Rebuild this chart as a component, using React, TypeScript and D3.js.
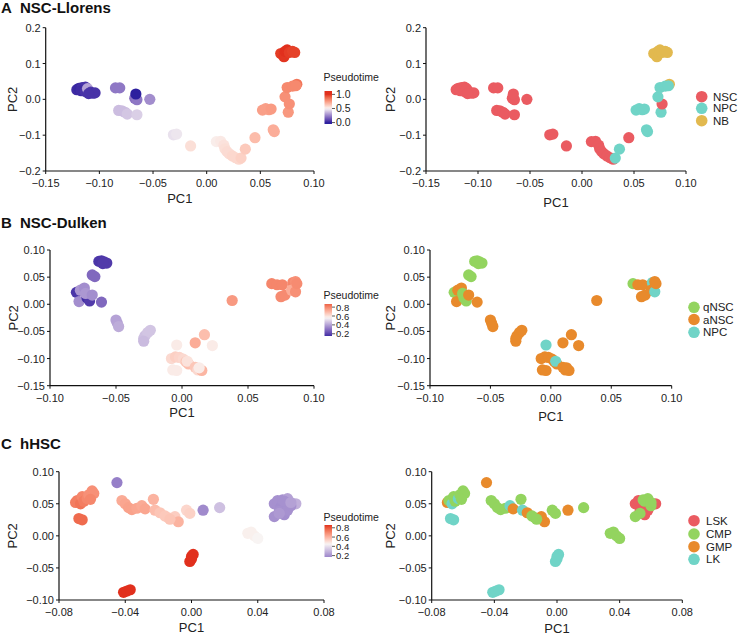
import React from "react";
import * as d3 from "d3";

// ---------------- Data ----------------
// Panel A: NSC-Llorens
const A_PC1 = [-0.121, -0.119, -0.116, -0.113, -0.117, -0.113, -0.111, -0.108, -0.106, -0.104, -0.11, -0.085, -0.081, -0.067, -0.065, -0.066, -0.053, -0.082, -0.079, -0.076, -0.074, -0.065, -0.031, -0.028, -0.015, 0.009, 0.013, 0.016, 0.017, 0.019, 0.021, 0.024, 0.027, 0.03, 0.032, 0.036, 0.045, 0.062, 0.063, 0.052, 0.055, 0.058, 0.06, 0.076, 0.077, 0.084, 0.073, 0.075, 0.08, 0.083, 0.069, 0.072, 0.073, 0.075, 0.077, 0.08, 0.082];
const A_PC2 = [0.027, 0.031, 0.033, 0.034, 0.024, 0.022, 0.03, 0.02, 0.017, 0.018, 0.016, 0.032, 0.032, 0.003, -0.001, 0.015, 0.0, -0.031, -0.032, -0.036, -0.041, -0.043, -0.099, -0.097, -0.13, -0.118, -0.117, -0.128, -0.138, -0.146, -0.152, -0.158, -0.163, -0.167, -0.164, -0.139, -0.107, -0.085, -0.09, -0.03, -0.026, -0.029, -0.027, -0.036, -0.013, 0.042, 0.007, 0.033, 0.037, 0.038, 0.128, 0.119, 0.134, 0.138, 0.131, 0.134, 0.131];
const A_PT = [0.03, 0.02, 0.04, 0.05, 0.03, 0.05, 0.32, 0.06, 0.04, 0.05, 0.05, 0.22, 0.22, 0.2, 0.22, 0.0, 0.27, 0.38, 0.38, 0.38, 0.4, 0.42, 0.46, 0.47, 0.56, 0.52, 0.53, 0.55, 0.56, 0.57, 0.57, 0.58, 0.58, 0.58, 0.6, 0.62, 0.66, 0.7, 0.7, 0.74, 0.74, 0.74, 0.75, 0.76, 0.78, 0.85, 0.78, 0.8, 0.8, 0.8, 0.98, 0.99, 1.0, 1.0, 0.98, 0.97, 0.97];
const A_TYPE = ["NSC", "NSC", "NSC", "NSC", "NSC", "NSC", "NSC", "NSC", "NSC", "NSC", "NSC", "NSC", "NSC", "NSC", "NSC", "NSC", "NSC", "NSC", "NSC", "NSC", "NSC", "NSC", "NSC", "NSC", "NSC", "NSC", "NSC", "NSC", "NSC", "NSC", "NSC", "NSC", "NSC", "NSC", "NPC", "NPC", "NSC", "NPC", "NPC", "NPC", "NPC", "NPC", "NPC", "NPC", "NSC", "NB", "NPC", "NPC", "NPC", "NPC", "NB", "NB", "NB", "NB", "NB", "NB", "NB"];
const A_CATS = ["NSC", "NPC", "NB"];
const A_X_TICKS = [-0.15, -0.1, -0.05, 0, 0.05, 0.1];
const A_Y_TICKS = [-0.2, -0.1, 0, 0.1, 0.2];
const A_PT_TICKS = [0, 0.5, 1.0];

// Panel B: NSC-Dulken
const B_PC1 = [-0.063, -0.061, -0.059, -0.057, -0.06, -0.068, -0.066, -0.08, -0.078, -0.077, -0.074, -0.072, -0.07, -0.073, -0.068, -0.061, -0.05, -0.049, -0.048, -0.029, -0.028, -0.026, -0.024, -0.029, -0.004, -0.008, -0.005, -0.002, 0.001, 0.003, 0.005, -0.007, -0.004, 0.004, 0.01, 0.012, 0.015, 0.013, 0.01, 0.017, 0.023, 0.038, 0.068, 0.072, 0.076, 0.075, 0.078, 0.084, 0.086, 0.083, 0.086, 0.087];
const B_PC2 = [0.079, 0.08, 0.078, 0.076, 0.075, 0.054, 0.051, 0.022, 0.005, 0.026, 0.03, 0.012, 0.006, 0.02, 0.017, 0.004, -0.029, -0.035, -0.041, -0.063, -0.058, -0.052, -0.048, -0.068, -0.075, -0.1, -0.097, -0.098, -0.101, -0.106, -0.11, -0.121, -0.122, -0.105, -0.116, -0.121, -0.122, -0.117, -0.071, -0.056, -0.076, 0.007, 0.038, 0.036, 0.036, 0.014, 0.017, 0.04, 0.042, 0.026, 0.023, 0.038];
const B_PT = [0.17, 0.17, 0.18, 0.18, 0.18, 0.28, 0.28, 0.17, 0.36, 0.38, 0.36, 0.15, 0.18, 0.38, 0.36, 0.28, 0.4, 0.4, 0.42, 0.46, 0.46, 0.47, 0.47, 0.45, 0.58, 0.62, 0.64, 0.63, 0.62, 0.66, 0.68, 0.58, 0.58, 0.6, 0.66, 0.62, 0.7, 0.58, 0.72, 0.68, 0.58, 0.76, 0.8, 0.8, 0.8, 0.79, 0.79, 0.8, 0.78, 0.72, 0.78, 0.79];
const B_TYPE = ["qNSC", "qNSC", "qNSC", "qNSC", "qNSC", "qNSC", "qNSC", "qNSC", "aNSC", "aNSC", "aNSC", "qNSC", "qNSC", "qNSC", "aNSC", "aNSC", "aNSC", "aNSC", "aNSC", "aNSC", "aNSC", "aNSC", "aNSC", "aNSC", "NPC", "aNSC", "aNSC", "aNSC", "aNSC", "aNSC", "aNSC", "aNSC", "aNSC", "NPC", "aNSC", "aNSC", "aNSC", "aNSC", "aNSC", "aNSC", "aNSC", "aNSC", "qNSC", "aNSC", "aNSC", "aNSC", "aNSC", "NPC", "aNSC", "aNSC", "NPC", "aNSC"];
const B_CATS = ["qNSC", "aNSC", "NPC"];
const B_X_TICKS = [-0.1, -0.05, 0, 0.05, 0.1];
const B_Y_TICKS = [-0.15, -0.1, -0.05, 0, 0.05, 0.1];
const B_PT_TICKS = [0.2, 0.4, 0.6, 0.8];

// Panel C: hHSC
const C_PC1 = [-0.07, -0.069, -0.067, -0.066, -0.065, -0.063, -0.062, -0.06, -0.059, -0.061, -0.068, -0.066, -0.045, -0.042, -0.04, -0.038, -0.036, -0.033, -0.03, -0.028, -0.023, -0.022, -0.019, -0.016, -0.014, -0.01, -0.008, -0.013, -0.003, -0.001, 0.007, 0.017, 0.05, 0.052, 0.054, 0.053, 0.056, 0.058, 0.063, 0.06, 0.055, 0.058, 0.056, 0.05, 0.053, 0.06, 0.034, 0.036, 0.038, 0.04, 0.0, 0.001, -0.001, 0.0, -0.041, -0.039, -0.037];
const C_PC2 = [0.052, 0.055, 0.05, 0.061, 0.054, 0.058, 0.064, 0.07, 0.066, 0.057, 0.027, 0.025, 0.083, 0.055, 0.05, 0.044, 0.041, 0.043, 0.047, 0.042, 0.057, 0.04, 0.036, 0.031, 0.028, 0.03, 0.022, 0.026, 0.04, 0.035, 0.04, 0.044, 0.05, 0.055, 0.045, 0.038, 0.033, 0.04, 0.05, 0.047, 0.056, 0.058, 0.054, 0.03, 0.035, 0.052, 0.004, 0.006, 0.0, -0.004, -0.032, -0.029, -0.04, -0.036, -0.088, -0.086, -0.084];
const C_PT = [0.72, 0.72, 0.74, 0.7, 0.72, 0.7, 0.68, 0.68, 0.68, 0.7, 0.76, 0.76, 0.15, 0.62, 0.63, 0.64, 0.64, 0.63, 0.62, 0.63, 0.6, 0.58, 0.56, 0.55, 0.55, 0.54, 0.6, 0.56, 0.52, 0.53, 0.18, 0.32, 0.2, 0.2, 0.19, 0.2, 0.19, 0.2, 0.28, 0.2, 0.2, 0.24, 0.2, 0.2, 0.22, 0.24, 0.46, 0.46, 0.46, 0.45, 0.86, 0.86, 0.86, 0.86, 0.86, 0.86, 0.86];
const C_TYPE = ["GMP", "CMP", "LK", "CMP", "CMP", "LK", "CMP", "CMP", "CMP", "CMP", "LK", "LK", "GMP", "CMP", "CMP", "CMP", "CMP", "CMP", "LK", "GMP", "CMP", "LK", "GMP", "CMP", "CMP", "GMP", "GMP", "CMP", "CMP", "CMP", "GMP", "CMP", "LSK", "LSK", "LSK", "LSK", "LSK", "LSK", "LSK", "CMP", "CMP", "CMP", "CMP", "CMP", "CMP", "CMP", "CMP", "CMP", "CMP", "CMP", "LK", "LK", "LK", "LK", "LK", "LK", "LK"];
const C_CATS = ["LSK", "CMP", "GMP", "LK"];
const C_X_TICKS = [-0.08, -0.04, 0, 0.04, 0.08];
const C_Y_TICKS = [-0.1, -0.05, 0, 0.05, 0.1];
const C_PT_TICKS = [0.2, 0.4, 0.6, 0.8];

// ---------------- Styles ----------------
const FONT = "'Liberation Sans', Arial, Helvetica, sans-serif";
const CAT_COLORS: Record<string, string> = {
  NSC: "#ea5b61", LSK: "#ea5b61",
  NPC: "#70d4c7", LK: "#70d4c7",
  NB: "#e2b94f",
  qNSC: "#93d45f", CMP: "#93d45f",
  aNSC: "#e88a2c", GMP: "#e88a2c",
};
const PT_LOW = "#2c1f9e";
const PT_MID = "#f8f4f3";
const PT_HIGH = "#e1301d";
const R = 5.6;

type Geo = {
  x0: number; x1: number; yTop: number; yBot: number;
  xDom: [number, number]; yDom: [number, number];
  pc2X: number; pc1Y: number;
};

function fmtTick(v: number, digits: number) {
  return d3.format(`.${digits}f`)(Math.abs(v) < 1e-12 ? 0 : v);
}

function Axes({ g, xTicks, yTicks, digitsX, digitsY }: { g: Geo; xTicks: number[]; yTicks: number[]; digitsX: number; digitsY: number }) {
  const x = d3.scaleLinear().domain(g.xDom).range([g.x0, g.x1]);
  const y = d3.scaleLinear().domain(g.yDom).range([g.yBot, g.yTop]);
  return (
    <g fontFamily={FONT} fill="#222">
      <line x1={g.x0} x2={g.x1} y1={g.yBot} y2={g.yBot} stroke="#111" strokeWidth={1.2} />
      <line x1={g.x0} x2={g.x0} y1={g.yTop} y2={g.yBot} stroke="#111" strokeWidth={1.2} />
      {xTicks.map((t) => (
        <g key={"x" + t}>
          <line x1={x(t)} x2={x(t)} y1={g.yBot} y2={g.yBot + 3} stroke="#111" strokeWidth={1} />
          <text x={x(t)} y={g.yBot + 16} fontSize={11} textAnchor="middle">{fmtTick(t, digitsX)}</text>
        </g>
      ))}
      {yTicks.map((t) => (
        <g key={"y" + t}>
          <line x1={g.x0 - 3} x2={g.x0} y1={y(t)} y2={y(t)} stroke="#111" strokeWidth={1} />
          <text x={g.x0 - 5} y={y(t) + 4} fontSize={11} textAnchor="end">{fmtTick(t, digitsY)}</text>
        </g>
      ))}
      <text x={(g.x0 + g.x1) / 2} y={g.pc1Y + 4.5} fontSize={13} textAnchor="middle">PC1</text>
      <text transform={`translate(${g.pc2X},${(g.yTop + g.yBot) / 2}) rotate(-90)`} fontSize={13} textAnchor="middle" dy="0.35em">PC2</text>
    </g>
  );
}

function Points({ g, pc1, pc2, colors }: { g: Geo; pc1: number[]; pc2: number[]; colors: string[] }) {
  const x = d3.scaleLinear().domain(g.xDom).range([g.x0, g.x1]);
  const y = d3.scaleLinear().domain(g.yDom).range([g.yBot, g.yTop]);
  return (
    <g>
      {pc1.map((v, i) => (
        <circle key={i} cx={x(v)} cy={y(pc2[i])} r={R} fill={colors[i]} />
      ))}
    </g>
  );
}

function ColorBar({ id, x, yTop, yBot, lo, hi, ticks, scale, titleY }: { id: string; x: number; yTop: number; yBot: number; lo: number; hi: number; ticks: number[]; scale: (v: number) => string; titleY: number }) {
  const ys = d3.scaleLinear().domain([lo, hi]).range([yBot, yTop]);
  const stops = d3.range(0, 21).map((i) => i / 20);
  return (
    <g fontFamily={FONT} fill="#222">
      <defs>
        <linearGradient id={id} x1="0" x2="0" y1="1" y2="0">
          {stops.map((s) => (
            <stop key={s} offset={s} stopColor={scale(lo + (hi - lo) * s)} />
          ))}
        </linearGradient>
      </defs>
      <text x={x - 1} y={titleY} fontSize={10.5}>Pseudotime</text>
      <rect x={x} y={yTop} width={7.5} height={yBot - yTop} fill={`url(#${id})`} />
      {ticks.map((t) => (
        <g key={t}>
          <line x1={x + 7.5} x2={x + 10.5} y1={ys(t)} y2={ys(t)} stroke="#333" strokeWidth={0.8} />
          <text x={x + 11.5} y={ys(t) + 3.6} fontSize={ticks.length > 3 ? 9.5 : 10.5}>{t.toFixed(1)}</text>
        </g>
      ))}
    </g>
  );
}

function Legend({ cats, cx, tx, ys }: { cats: string[]; cx: number; tx: number; ys: number[] }) {
  return (
    <g fontFamily={FONT} fill="#222">
      {cats.map((c, i) => (
        <g key={c}>
          <circle cx={cx} cy={ys[i]} r={5.8} fill={CAT_COLORS[c]} />
          <text x={tx} y={ys[i] + 4} fontSize={11.5}>{c}</text>
        </g>
      ))}
    </g>
  );
}

function ptScale(dom: [number, number, number]) {
  return d3.scaleLinear<string>().domain(dom).range([PT_LOW, PT_MID, PT_HIGH]).interpolate(d3.interpolateLab).clamp(true);
}

export default function App() {
  const aScale = ptScale([0, 0.5, 1.0]);
  const bScale = ptScale([0.12, 0.56, 0.95]);
  const cScale = ptScale([-0.12, 0.45, 0.86]);

  const gAL: Geo = { x0: 45.7, x1: 314, yTop: 27.7, yBot: 171, xDom: [-0.15, 0.1], yDom: [-0.2, 0.2], pc2X: 12.5, pc1Y: 198 };
  const gAR: Geo = { x0: 426, x1: 686, yTop: 27.7, yBot: 171, xDom: [-0.15, 0.1], yDom: [-0.2, 0.2], pc2X: 390, pc1Y: 202 };
  const gBL: Geo = { x0: 50, x1: 314, yTop: 250, yBot: 385.7, xDom: [-0.1, 0.1], yDom: [-0.15, 0.1], pc2X: 13, pc1Y: 412 };
  const gBR: Geo = { x0: 430, x1: 671.7, yTop: 250, yBot: 385.7, xDom: [-0.1, 0.1], yDom: [-0.15, 0.1], pc2X: 390, pc1Y: 416 };
  const gCL: Geo = { x0: 59, x1: 324, yTop: 471.7, yBot: 600, xDom: [-0.08, 0.08], yDom: [-0.1, 0.1], pc2X: 12.5, pc1Y: 627.5 };
  const gCR: Geo = { x0: 431.7, x1: 682.3, yTop: 471.7, yBot: 600, xDom: [-0.08, 0.08], yDom: [-0.1, 0.1], pc2X: 390, pc1Y: 628.5 };

  const title = (letter: string, name: string, y: number) => (
    <text x={1} y={y} fontFamily={FONT} fontSize={15} fontWeight="bold" fill="#111">
      <tspan>{letter}</tspan>
      <tspan x={20}>{name}</tspan>
    </text>
  );

  return (
    <svg width={738} height={636} style={{ position: "absolute", left: 0, top: 0, background: "#fff" }}>
      <rect width={738} height={636} fill="#fff" />
      {title("A", "NSC-Llorens", 12.5)}
      {title("B", "NSC-Dulken", 227.5)}
      {title("C", "hHSC", 448.5)}

      {/* A */}
      <Points g={gAL} pc1={A_PC1} pc2={A_PC2} colors={A_PT.map((t) => aScale(t))} />
      <Axes g={gAL} xTicks={A_X_TICKS} yTicks={A_Y_TICKS} digitsX={2} digitsY={1} />
      <ColorBar id="cbA" x={324.5} yTop={91} yBot={124} lo={-0.05} hi={1.12} ticks={A_PT_TICKS} scale={aScale} titleY={81} />
      <Points g={gAR} pc1={A_PC1} pc2={A_PC2} colors={A_TYPE.map((t) => CAT_COLORS[t])} />
      <Axes g={gAR} xTicks={A_X_TICKS} yTicks={A_Y_TICKS} digitsX={2} digitsY={1} />
      <Legend cats={A_CATS} cx={701.7} tx={713} ys={[96.7, 108.3, 120.7]} />

      {/* B */}
      <Points g={gBL} pc1={B_PC1} pc2={B_PC2} colors={B_PT.map((t) => bScale(t))} />
      <Axes g={gBL} xTicks={B_X_TICKS} yTicks={B_Y_TICKS} digitsX={2} digitsY={2} />
      <ColorBar id="cbB" x={324.5} yTop={304} yBot={336} lo={0.15} hi={0.87} ticks={B_PT_TICKS} scale={bScale} titleY={299} />
      <Points g={gBR} pc1={B_PC1} pc2={B_PC2} colors={B_TYPE.map((t) => CAT_COLORS[t])} />
      <Axes g={gBR} xTicks={B_X_TICKS} yTicks={B_Y_TICKS} digitsX={2} digitsY={2} />
      <Legend cats={B_CATS} cx={694} tx={703} ys={[307.3, 319.5, 332.3]} />

      {/* C */}
      <Points g={gCL} pc1={C_PC1} pc2={C_PC2} colors={C_PT.map((t) => cScale(t))} />
      <Axes g={gCL} xTicks={C_X_TICKS} yTicks={C_Y_TICKS} digitsX={2} digitsY={2} />
      <ColorBar id="cbC" x={324.5} yTop={525} yBot={557} lo={0.17} hi={0.86} ticks={C_PT_TICKS} scale={cScale} titleY={521} />
      <Points g={gCR} pc1={C_PC1} pc2={C_PC2} colors={C_TYPE.map((t) => CAT_COLORS[t])} />
      <Axes g={gCR} xTicks={C_X_TICKS} yTicks={C_Y_TICKS} digitsX={2} digitsY={2} />
      <Legend cats={C_CATS} cx={694} tx={706} ys={[520.7, 534, 546.7, 559.3]} />
    </svg>
  );
}
